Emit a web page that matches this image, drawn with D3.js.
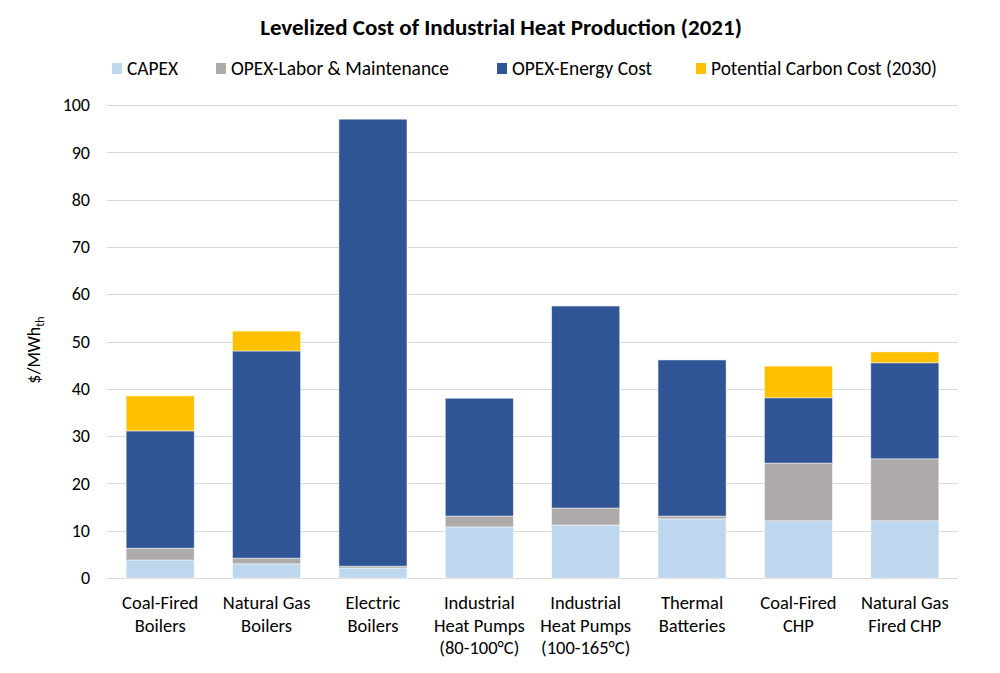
<!DOCTYPE html>
<html>
<head>
<meta charset="utf-8">
<script src="https://cdn.jsdelivr.net/npm/d3@7"></script>
<style>
body { margin: 0; background: #fff; }
text { font-family: Carlito, Calibri, "Open Sans", sans-serif; fill: #000; }
</style>
</head>
<body>
<script>
// data
var categories = ["Coal-Fired|Boilers", "Natural Gas|Boilers", "Electric|Boilers",
    "Industrial|Heat Pumps|(80-100°C)", "Industrial|Heat Pumps|(100-165°C)",
    "Thermal|Batteries", "Coal-Fired|CHP", "Natural Gas|Fired CHP"];
var seriesNames = ["CAPEX", "OPEX-Labor & Maintenance", "OPEX-Energy Cost", "Potential Carbon Cost (2030)"];
var capex  = [3.8, 3.0, 2.1, 10.8, 11.2, 12.5, 12.1, 12.1];
var labor  = [2.5, 1.2, 0.4, 2.3, 3.6, 0.6, 12.2, 13.1];
var energy = [24.8, 43.8, 94.5, 24.9, 42.7, 33.0, 13.8, 20.3];
var carbon = [7.4, 4.2, 0, 0, 0, 0, 6.7, 2.3];
var yTicks = [0, 10, 20, 30, 40, 50, 60, 70, 80, 90, 100];
var colors = ["#BDD7EE", "#AEAAAA", "#2F5597", "#FFC000"];

var svg = d3.select('body').append('svg')
    .attr('width', 1000)
    .attr('height', 673);

var plotLeft = 107, plotRight = 958, plotTop = 105, plotBottom = 578;

var x = d3.scaleBand().domain(d3.range(categories.length))
    .range([plotLeft, plotRight]).paddingInner(0.36).paddingOuter(0.18);
var y = d3.scaleLinear().domain([0, 100]).range([plotBottom, plotTop]);

// gridlines
svg.append('g').selectAll('line').data(yTicks).enter().append('line')
    .attr('x1', plotLeft).attr('x2', plotRight)
    .attr('y1', d => Math.round(y(d)) + 0.5).attr('y2', d => Math.round(y(d)) + 0.5)
    .attr('stroke', '#d9d9d9').attr('stroke-width', 1);

// y tick labels
var yAxis = svg.append('g').attr('transform', 'translate(' + plotLeft + ',0)')
    .call(d3.axisLeft(y).tickValues(yTicks).tickSize(0).tickPadding(17));
yAxis.select('.domain').remove();
yAxis.selectAll('text').style('font-size', '18px').attr('fill', '#000')
    .style('font-family', 'Carlito, Calibri, "Open Sans", sans-serif');

// stacked bars
var rows = categories.map(function(c, i) {
    return {i: i, s0: capex[i], s1: labor[i], s2: energy[i], s3: carbon[i]};
});
var stack = d3.stack().keys(["s0", "s1", "s2", "s3"])(rows);

svg.append('g').selectAll('g').data(stack).enter().append('g')
    .attr('fill', (d, k) => colors[k])
    .selectAll('rect').data(d => d.filter(p => p[1] - p[0] > 0)).enter().append('rect')
    .attr('x', d => x(d.data.i))
    .attr('width', x.bandwidth())
    .attr('y', d => y(d[1]))
    .attr('height', d => y(d[0]) - y(d[1]))
    .attr('stroke', '#ffffff')
    .attr('stroke-opacity', 0.6)
    .attr('stroke-width', 0.8);

// x labels
var xl = svg.append('g').selectAll('text').data(categories).enter().append('text')
    .attr('x', (d, i) => x(i) + x.bandwidth() / 2)
    .attr('y', 609)
    .attr('text-anchor', 'middle')
    .style('font-size', '18.5px');
xl.each(function(d) {
    var t = d3.select(this);
    d.split('|').forEach(function(line, j) {
        t.append('tspan').attr('x', t.attr('x')).attr('dy', j == 0 ? 0 : 22.5).text(line);
    });
});

// y label
var yl = svg.append('text')
    .attr('transform', 'translate(40,350) rotate(-90)')
    .attr('text-anchor', 'middle')
    .style('font-size', '18px');
yl.append('tspan').text('$/MWh');
yl.append('tspan').attr('dy', 4).style('font-size', '12px').text('th');

// title
svg.append('text')
    .attr('x', 501).attr('y', 35)
    .attr('text-anchor', 'middle')
    .style('font-size', '23px')
    .style('font-weight', 'bold')
    .text('Levelized Cost of Industrial Heat Production (2021)');

// legend
var legendX = [112, 216, 497, 696];
var lg = svg.append('g').selectAll('g').data(seriesNames).enter().append('g')
    .attr('transform', (d, i) => 'translate(' + legendX[i] + ',63)');
lg.append('rect').attr('width', 10).attr('height', 11)
    .attr('fill', (d, i) => colors[i]);
lg.append('text').attr('x', 15).attr('y', 12)
    .style('font-size', '19.4px')
    .text(d => d);
</script>
</body>
</html>
